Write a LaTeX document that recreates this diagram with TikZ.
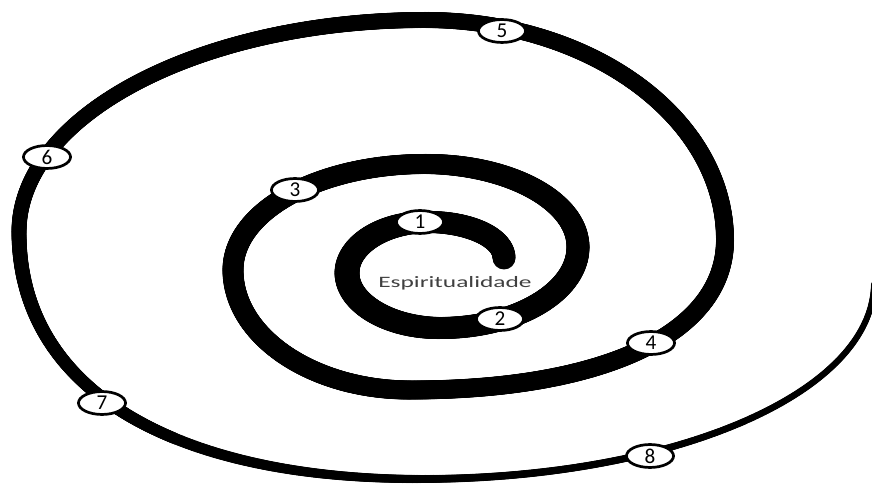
\documentclass[tikz,border=0pt]{standalone}
\usepackage{fontspec}
\setmainfont{Carlito}
\usetikzlibrary{decorations.markings,shapes.geometric}
\tikzset{
  seg/.style 2 args={decoration={markings,
    mark=between positions 0 and 1 step 0.8pt with {
      \pgfmathsetmacro\rr{0.425*(#1+(#2-#1)*\pgfkeysvalueof{/pgf/decoration/mark info/distance from start}/\pgfdecoratedpathlength)}
      \fill[black] (0pt,0pt) circle[radius=\rr pt];}}, decorate},
  lbl/.style={ellipse, draw=black, line width=2.3pt, fill=white,
    minimum width=40pt, minimum height=19.5pt, inner sep=0pt,
    font=\fontsize{18}{18}\selectfont},
  maintext/.style={text=black!75, anchor=base, inner sep=0pt}
}
\begin{document}
\begin{tikzpicture}[x=0.85pt,y=-0.85pt]
\useasboundingbox (0,0) rectangle (872,488);
\fill[white] (0,0) rectangle (872,488);
\clip (0,0) rectangle (872,488);
% inner turn
\path[seg={23}{22}] (504,258) .. controls (504,238) and (470,222) .. (428,222);
\path[seg={22}{25}] (428,222) .. controls (383,222) and (347,245) .. (347,273);
\path[seg={25}{22}] (347,273) .. controls (347,303) and (389,328) .. (440,328);
\path[seg={22}{23}] (440,328) .. controls (516,328) and (578,292) .. (578,247);
% second turn
\path[seg={23}{20}] (578,247) .. controls (578,201) and (509,164) .. (425,164);
\path[seg={20}{21}] (425,164) .. controls (319,164) and (233,211) .. (233,270);
\path[seg={21}{19}] (233,270) .. controls (233,336) and (312,390) .. (410,390);
\path[seg={19}{18}] (410,390) .. controls (605,390) and (725,333) .. (725,240);
% outer turn
\path[seg={18}{16}] (725,240) .. controls (725,118) and (591,20) .. (425,20);
\path[seg={16}{15}] (425,20) .. controls (201,20) and (19,115) .. (19,232);
\path[seg={15}{8}] (19,232) .. controls (19,393) and (179,479) .. (420,479);
\path[seg={8}{6}] (420,479) .. controls (670,479) and (872,395) .. (874,284);
% labels
\node[lbl] (n1) at (420,222) {1};
\node[lbl] (n2) at (500,319) {2};
\node[lbl] (n3) at (295,190) {3};
\node[lbl] (n4) at (651,343) {4};
\node[lbl] (n5) at (502,31) {5};
\node[lbl] (n6) at (47,157) {6};
\node[lbl] (n7) at (102,403) {7};
\node[lbl] (n8) at (650,456) {8};
\node[maintext] (txt) at (455,287.7) {\scalebox{1.6}[1]{\fontsize{13.5}{14}\selectfont Espiritualidade}};
\end{tikzpicture}
\end{document}
